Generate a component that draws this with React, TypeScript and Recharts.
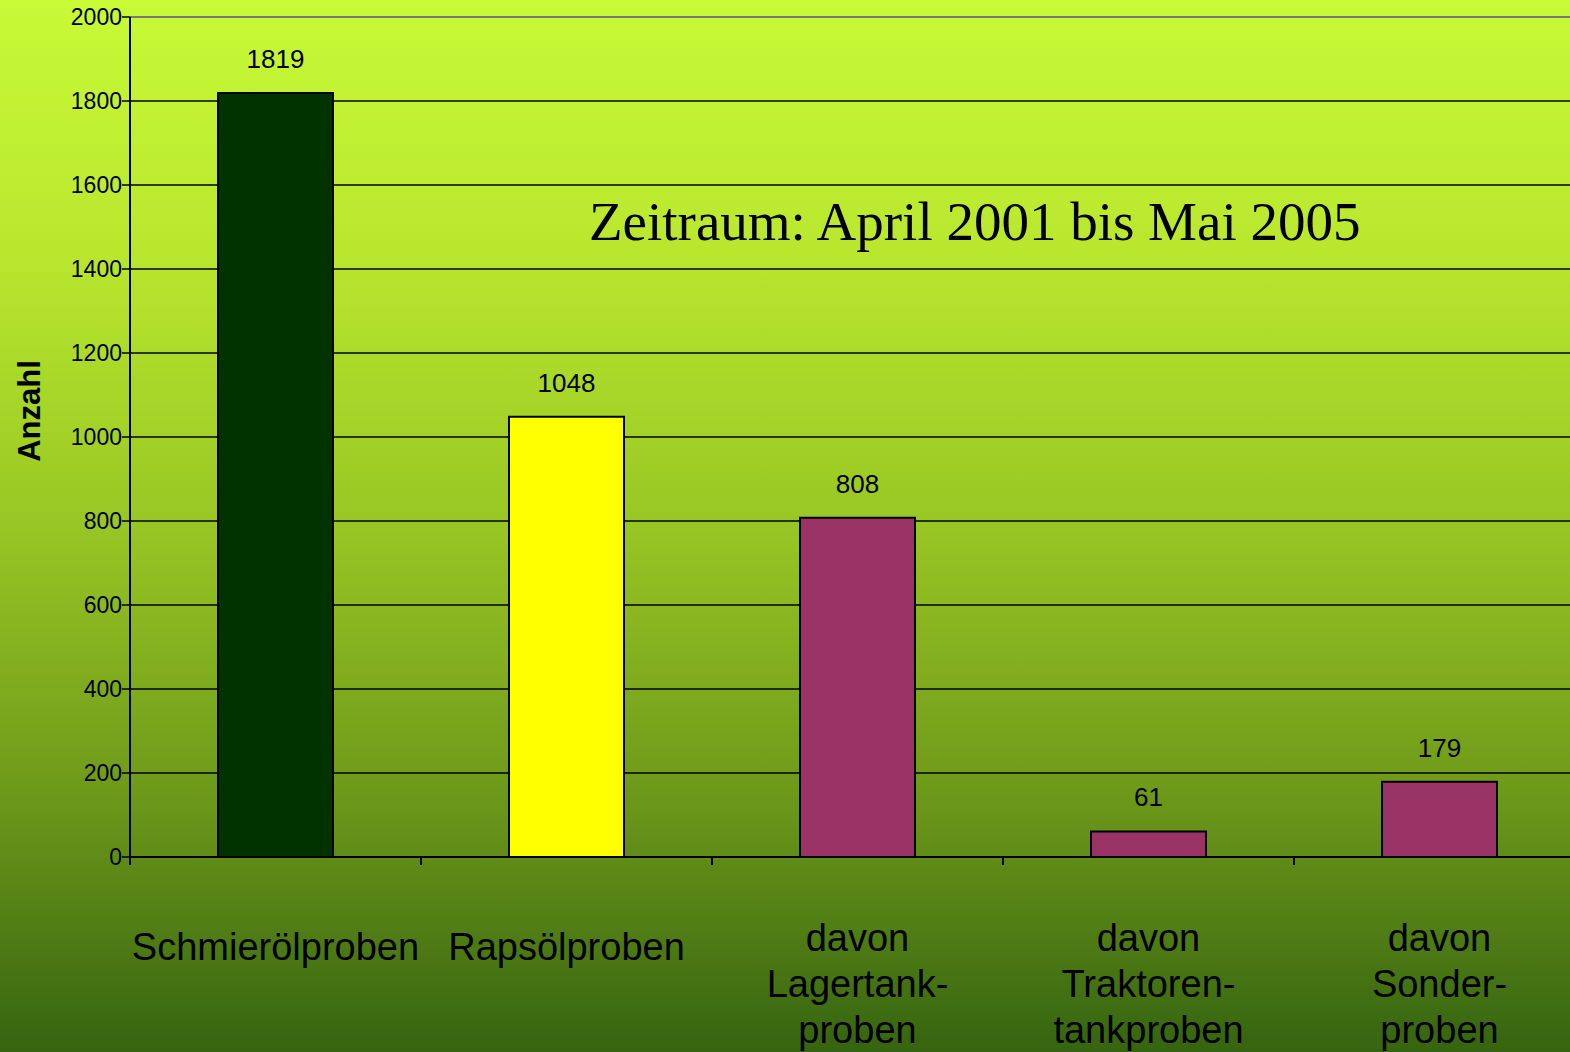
import React from 'react';
import { BarChart, Bar, XAxis, YAxis, CartesianGrid, ReferenceLine, Cell, LabelList } from 'recharts';

const categories = [
  'Schmierölproben',
  'Rapsölproben',
  'davon\nLagertank-\nproben',
  'davon\nTraktoren-\ntankproben',
  'davon\nSonder-\nproben',
];
const values = [1819, 1048, 808, 61, 179];
const barColors = ['#003300', '#ffff00', '#993366', '#993366', '#993366'];
const yTicks = [0, 200, 400, 600, 800, 1000, 1200, 1400, 1600, 1800, 2000];
const titleText = 'Zeitraum: April 2001 bis Mai 2005';
const yAxisTitle = 'Anzahl';

const data = categories.map((c, i) => ({ name: c, value: values[i] }));

const CHART_W = 1590;
const CHART_H = 1052;
const YAXIS_W = 130;
const MARGIN_R = 5;
const BAND = (CHART_W - YAXIS_W - MARGIN_R) / categories.length;
const SANS = '"Liberation Sans", Arial, sans-serif';

const XTick = (props: any) => {
  const { x, y, payload } = props;
  const lines = String(payload.value).split('\n');
  const first = lines.length === 1 ? 103 : 94;
  return (
    <g>
      <line x1={x - BAND / 2} x2={x - BAND / 2} y1={y} y2={y + 8} stroke="#000" strokeWidth={2} />
      <text textAnchor="middle" fontFamily={SANS} fontSize={38} fill="#000">
        {lines.map((l, i) => (
          <tspan key={i} x={x} y={y + first + i * 46}>
            {l}
          </tspan>
        ))}
      </text>
    </g>
  );
};

export default function App() {
  return (
    <div
      style={{
        position: 'fixed',
        left: 0,
        top: 0,
        width: 1570,
        height: 1052,
        overflow: 'hidden',
        background:
          'linear-gradient(to bottom, #c8fa36 0%, #b8e62e 25%, #98c624 50%, #6e9a1a 75%, #366410 100%)',
        fontFamily: SANS,
      }}
    >
      <BarChart
        width={CHART_W}
        height={CHART_H}
        data={data}
        margin={{ top: 17, right: MARGIN_R, left: 0, bottom: 0 }}
        barSize={115}
      >
        <CartesianGrid vertical={false} stroke="#000" strokeWidth={1.5} />
        <ReferenceLine y={2000} stroke="#777" strokeWidth={2} />
        <XAxis
          dataKey="name"
          height={195}
          tickSize={0}
          tickMargin={0}
          tickLine={false}
          interval={0}
          axisLine={{ stroke: '#000', strokeWidth: 2 }}
          tick={<XTick />}
        />
        <YAxis
          width={YAXIS_W}
          domain={[0, 2000]}
          ticks={yTicks}
          interval={0}
          tickSize={8}
          tickMargin={0}
          axisLine={{ stroke: '#000', strokeWidth: 2 }}
          tickLine={{ stroke: '#000', strokeWidth: 1.5 }}
          tick={{ fill: '#000', fontSize: 23, fontFamily: SANS }}
        />
        <Bar dataKey="value" stroke="#000" strokeWidth={2} isAnimationActive={false}>
          {data.map((d, i) => (
            <Cell key={i} fill={barColors[i]} />
          ))}
          <LabelList
            dataKey="value"
            position="top"
            offset={25}
            fill="#000"
            fontSize={26}
            fontFamily={SANS}
          />
        </Bar>
      </BarChart>
      <div
        style={{
          position: 'absolute',
          left: 589,
          top: 194,
          fontFamily: '"Liberation Serif", "Times New Roman", serif',
          fontSize: 55,
          lineHeight: '55px',
          whiteSpace: 'nowrap',
          color: '#000',
        }}
      >
        {titleText}
      </div>
      <div
        style={{
          position: 'absolute',
          left: 30,
          top: 411,
          transform: 'translate(-50%, -50%) rotate(-90deg)',
          fontWeight: 'bold',
          fontSize: 31,
          whiteSpace: 'nowrap',
          color: '#000',
          fontFamily: SANS,
        }}
      >
        {yAxisTitle}
      </div>
    </div>
  );
}
